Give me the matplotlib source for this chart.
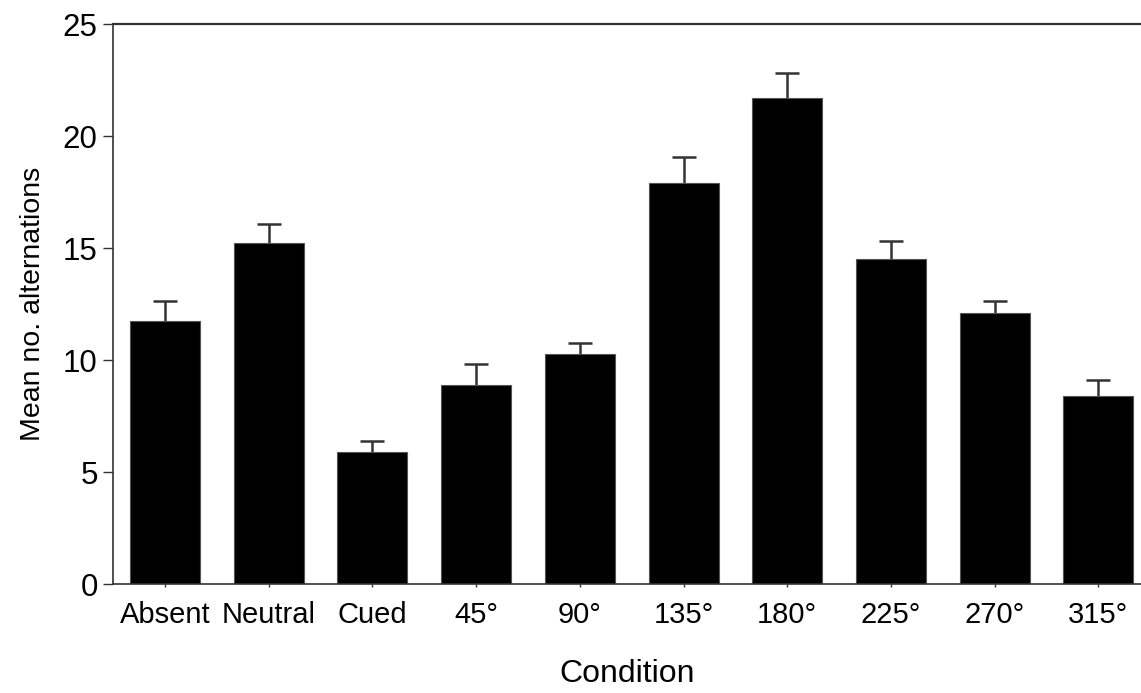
import numpy as np
import matplotlib as mpl
import matplotlib.pyplot as plt

conditions = ["Absent", "Neutral", "Cued", "45°", "90°", "135°", "180°", "225°", "270°", "315°"]
means = [11.75, 15.24, 5.88, 8.88, 10.28, 17.89, 21.68, 14.50, 12.08, 8.39]
upper = [12.65, 16.06, 6.38, 9.83, 10.76, 19.06, 22.83, 15.30, 12.63, 9.11]

mpl.rcParams.update({
    'font.family': ['Liberation Sans', 'DejaVu Sans'],
})

x = np.arange(len(conditions))

fig = plt.figure(figsize=(11.41, 6.93), dpi=100)
ax = fig.add_axes([113/1141, 1 - 584/693, 1 - 113/1141, (584 - 24)/693])

ax.bar(x, means, width=0.675, color='black', edgecolor='#555555', linewidth=0.8, zorder=2)
# upper error bars only: stem + cap
ax.vlines(x, means, upper, color='#333333', linewidth=1.8, zorder=1)
ax.plot(x, upper, linestyle='none', marker='_', markersize=17, markeredgewidth=1.8,
        color='#333333', zorder=1)

ax.set_xlim(-0.5, 9.41)
ax.set_ylim(0, 25)
ax.set_yticks([0, 5, 10, 15, 20, 25])
ax.set_xticks(x)
ax.set_xticklabels(conditions, fontsize=21)
ax.tick_params(axis='y', labelsize=22.5, length=7, width=1, color='#333333', pad=4)
ax.tick_params(axis='x', length=2, width=1, color='#333333', pad=10)

for side in ['left', 'bottom', 'top']:
    ax.spines[side].set_color('#333333')
    ax.spines[side].set_linewidth(1.2)
ax.spines['top'].set_linewidth(1.6)
ax.spines['right'].set_visible(False)

ax.set_ylabel("Mean no. alternations", fontsize=20.5, labelpad=12)
ax.set_xlabel("Condition", fontsize=23, labelpad=22)

fig.savefig('out.png', dpi=100)
